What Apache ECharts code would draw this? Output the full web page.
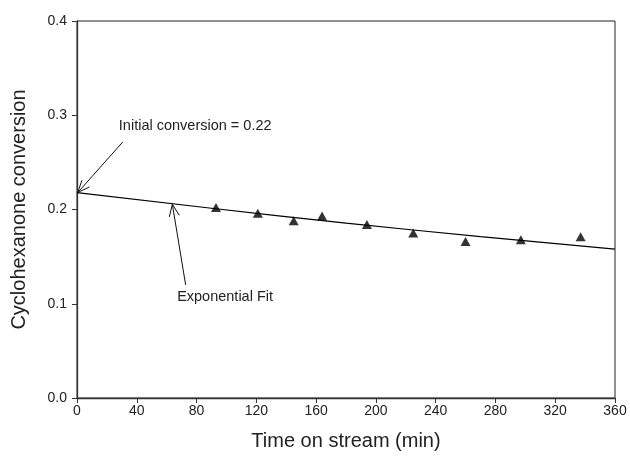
<!DOCTYPE html>
<html>
<head>
<meta charset="utf-8">
<script src="https://cdn.jsdelivr.net/npm/echarts@6/dist/echarts.min.js"></script>
<style>
  html, body { margin: 0; padding: 0; background: #fff; }
  #main { width: 630px; height: 459px; }
</style>
</head>
<body>
<div id="main"></div>
<script>
// measured points (time on stream, conversion)
var timeData = [93, 121, 145, 164, 194, 225, 260, 297, 337];
var convData = [0.202, 0.196, 0.188, 0.193, 0.184, 0.175, 0.166, 0.168, 0.171];

// exponential fit line
var fitTime = [0, 90, 180, 270, 360];
var fitConv = [0.218, 0.2013, 0.1856, 0.1713, 0.158];

var xTicks = [0, 40, 80, 120, 160, 200, 240, 280, 320, 360];
var yTicks = [0.0, 0.1, 0.2, 0.3, 0.4];

// annotations: [label, text pos, arrow tail, arrow tip]
var noteLabels = ['Initial conversion = 0.22', 'Exponential Fit'];
var noteTextPos = [[28, 0.289], [67, 0.1075]];
var noteTail = [[30.6, 0.2716], [72.7, 0.120]];
var noteTip = [[0.5, 0.218], [63.8, 0.2055]];

var font = '"Liberation Sans", Arial, sans-serif';

function pairs(a, b) {
	var out = [];
	for (var i = 0; i < a.length; i++) {
		out.push([a[i], b[i]]);
	}
	return out;
}

var myChart = echarts.init(document.getElementById('main'), null, { renderer: 'canvas' });

var option = {
	animation: false,
	backgroundColor: '#fff',
	grid: {
		left: 77, right: 15, top: 21, bottom: 61,
		show: true, borderColor: '#222', borderWidth: 1
	},
	xAxis: {
		type: 'value',
		min: xTicks[0], max: xTicks[xTicks.length - 1], interval: 40,
		name: 'Time on stream (min)',
		nameLocation: 'middle', nameGap: 33,
		nameTextStyle: { fontFamily: font, fontSize: 20, color: '#222' },
		axisLine: { show: true, lineStyle: { color: '#333', width: 1.3 } },
		axisTick: { show: true, length: 5, lineStyle: { color: '#333' } },
		axisLabel: { fontFamily: font, fontSize: 14, color: '#222', margin: 6 },
		splitLine: { show: false }
	},
	yAxis: {
		type: 'value',
		min: yTicks[0], max: yTicks[yTicks.length - 1], interval: 0.1,
		name: 'Cyclohexanone conversion',
		nameLocation: 'middle', nameGap: 48,
		nameTextStyle: { fontFamily: font, fontSize: 20, color: '#222' },
		axisLine: { show: true, lineStyle: { color: '#333', width: 1.3 } },
		axisTick: { show: true, length: 5, lineStyle: { color: '#333' } },
		axisLabel: {
			fontFamily: font, fontSize: 14, color: '#222', margin: 10,
			formatter: function(v) { return v.toFixed(1); }
		},
		splitLine: { show: false }
	},
	series: [{
		name: 'fit',
		type: 'line',
		data: pairs(fitTime, fitConv),
		smooth: true,
		showSymbol: false,
		symbol: 'none',
		lineStyle: { color: '#000', width: 1.2 },
		z: 2
	}, {
		name: 'data',
		type: 'scatter',
		data: pairs(timeData, convData),
		symbol: 'triangle',
		symbolSize: [10, 9],
		itemStyle: { color: '#000' },
		z: 3
	}]
};

myChart.setOption(option);

// 注释箭头和文字
function drawNotes() {
	var els = [];
	for (var i = 0; i < noteLabels.length; i++) {
		var p = myChart.convertToPixel({ gridIndex: 0 }, noteTextPos[i]);
		var a = myChart.convertToPixel({ gridIndex: 0 }, noteTail[i]);
		var b = myChart.convertToPixel({ gridIndex: 0 }, noteTip[i]);
		els.push({
			type: 'text', x: p[0], y: p[1],
			style: { text: noteLabels[i], font: '14.5px ' + font, fill: '#222', textVerticalAlign: 'middle' }
		});
		els.push({
			type: 'line', shape: { x1: a[0], y1: a[1], x2: b[0], y2: b[1] },
			style: { stroke: '#111', lineWidth: 1 }
		});
		var ang = Math.atan2(a[1] - b[1], a[0] - b[0]);
		var len = 13, spread = 0.4;
		for (var s = -1; s <= 1; s += 2) {
			els.push({
				type: 'line',
				shape: {
					x1: b[0], y1: b[1],
					x2: b[0] + len * Math.cos(ang + s * spread),
					y2: b[1] + len * Math.sin(ang + s * spread)
				},
				style: { stroke: '#111', lineWidth: 1 }
			});
		}
	}
	myChart.setOption({ graphic: els });
}
drawNotes();
</script>
</body>
</html>
